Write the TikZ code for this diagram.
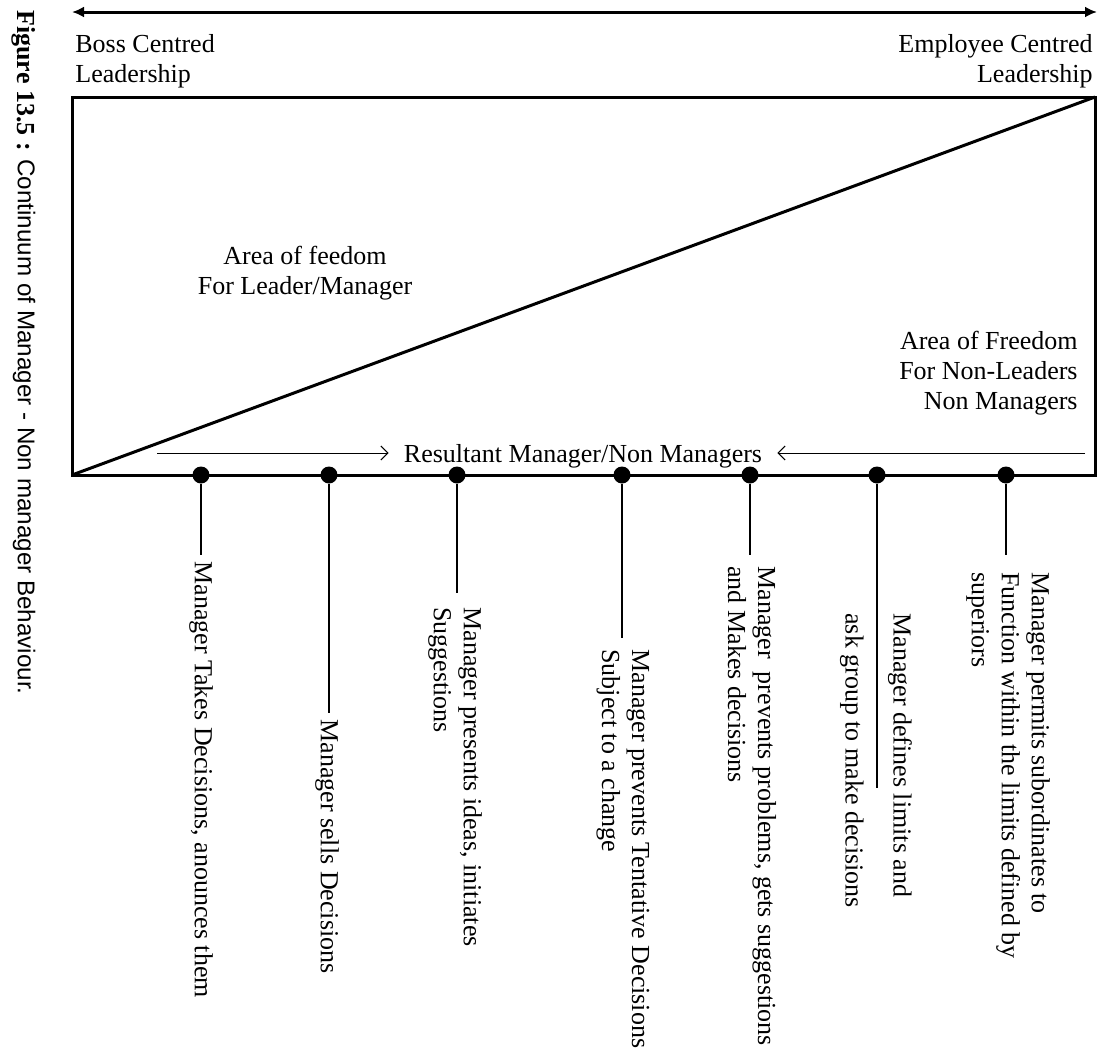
\documentclass[tikz,border=0pt]{standalone}
\usepackage{fontspec}
\setmainfont{Liberation Serif}
\setsansfont{Liberation Sans}
\usetikzlibrary{arrows.meta}

\begin{document}
\begin{tikzpicture}[x=0.5pt, y=-0.5pt, font=\fontsize{13}{15}\selectfont,
  dot/.style={circle, fill, inner sep=0pt, minimum size=8.5pt},
  stem/.style={line width=1.3pt},
  act/.style={rotate=-90, anchor=west, align=left, inner sep=0pt},
  flow/.style={line width=0.5pt, -{Straight Barb[length=3.5pt, width=7pt]}}]
  \useasboundingbox (0,0) rectangle (1099,1055);

  % Caption, set sideways
  \node[rotate=-90, anchor=west, inner sep=0pt] (caption) at (24,10)
    {\textbf{Figure 13.5 :} {\sffamily\fontsize{12.1}{14}\selectfont Continuum of Manager - Non manager Behaviour.}};

  % Continuum arrow and end labels
  \coordinate (boss) at (72,12);
  \coordinate (empl) at (1097,12);
  \draw[line width=1.5pt, {Latex[length=6pt, width=5.5pt]}-{Latex[length=6pt, width=5.5pt]}]
    (boss) -- (empl);
  \node[anchor=north west, align=left, inner sep=0pt] (bossl) at (75,34)
    {Boss Centred\\Leadership};
  \node[anchor=north east, align=right, inner sep=0pt] (empll) at (1093,34)
    {Employee Centred\\Leadership};

  % Frame and dividing diagonal
  \draw[line width=1.5pt] (72,97) rectangle (1095,475);
  \draw[line width=1.5pt] (72,475) -- (1095,97);
  \node[align=center, anchor=north, inner sep=0pt] (leader) at (305,246)
    {Area of feedom\\For Leader/Manager};
  \node[align=right, anchor=north east, inner sep=0pt] (nonleader) at (1078,331)
    {Area of Freedom\\For Non-Leaders\\Non Managers};

  % Resultant behaviour
  \node[anchor=base, inner xsep=7.5pt] (res) at (583,462)
    {Resultant Manager/Non Managers};
  \coordinate (resl) at (157,453);
  \coordinate (resr) at (1085,453);
  \draw[flow] (resl) -- (resl -| res.west);
  \draw[flow] (resr) -- (resr -| res.east);

  % Points on the continuum
  \node[dot] (d1) at (201,475) {};
  \node[dot] (d2) at (329,475) {};
  \node[dot] (d3) at (457,475) {};
  \node[dot] (d4) at (622,475) {};
  \node[dot] (d5) at (750,475) {};
  \node[dot] (d6) at (877,475) {};
  \node[dot] (d7) at (1006,475) {};

  \coordinate (e1) at (201,555);
  \coordinate (e2) at (329,713);
  \coordinate (e3) at (457,593);
  \coordinate (e4) at (622,638);
  \coordinate (e5) at (750,555);
  \coordinate (e6) at (877,788);
  \coordinate (e7) at (1006,555);

  \draw[stem] (d1) -- (e1);
  \draw[stem] (d2) -- (e2);
  \draw[stem] (d3) -- (e3);
  \draw[stem] (d4) -- (e4);
  \draw[stem] (d5) -- (e5);
  \draw[stem] (d6) -- (e6);
  \draw[stem] (d7) -- (e7);

  % Manager behaviours
  \node[act] (t1) at (201,561) {Manager Takes Decisions, anounces them};
  \node[act] (t2) at (327,719) {Manager sells Decisions};
  \node[act] (t3) at (455,607) {Manager presents ideas, initiates\\Suggestions};
  \node[act] (t4) at (623,649) {Manager prevents Tentative Decisions\\Subject to a change};
  \node[act] (t5) at (752,566) {Manager~ prevents problems, gets suggestions\\and Makes decisions};
  \node[act] (t6) at (876,613) {Manager defines limits and\\[9pt]ask group to make decisions};
  \node[act] (t7) at (1008,572) {Manager permits subordinates to\\Function within the limits defined by\\superiors};
\end{tikzpicture}
\end{document}
